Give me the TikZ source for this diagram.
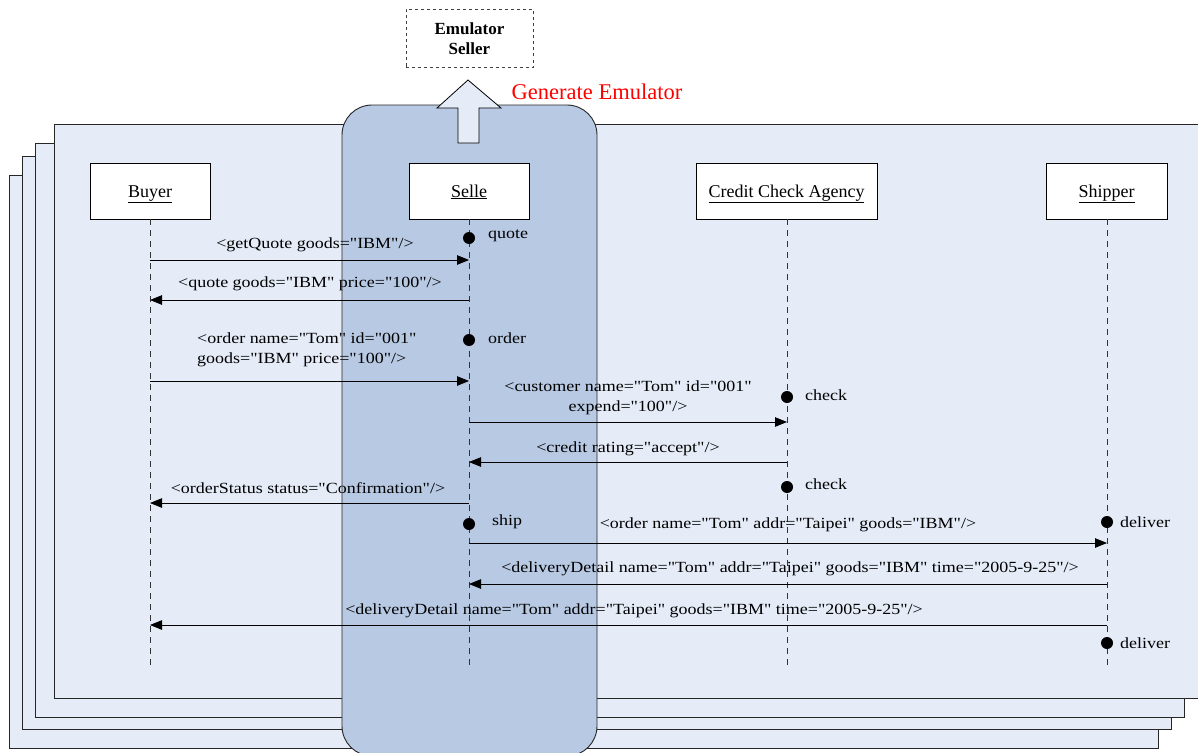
\documentclass[tikz,border=0pt]{standalone}
\usepackage{fontspec}
\setmainfont{Liberation Serif}
\newfontfamily\msgfont[FakeStretch=1.16]{Liberation Serif}
\usetikzlibrary{arrows.meta}
\definecolor{pagefill}{HTML}{E5ECF7}
\definecolor{bluefill}{HTML}{B8C9E3}
\begin{document}
\begin{tikzpicture}[x=1pt,y=-1pt,
  page/.style={draw=black!85, line width=0.9pt, fill=pagefill},
  actor/.style={draw=black, fill=white, line width=0.8pt, minimum width=120pt, minimum height=56pt, inner sep=0pt, text height=15pt, text depth=3pt, font=\fontsize{18}{20}\selectfont},
  lifeline/.style={draw=black!80, line width=0.8pt, dash pattern=on 6pt off 5pt},
  msg/.style={draw=black, line width=0.8pt, -{Triangle[length=12pt,width=9.5pt]}},
  lbl/.style={inner sep=0pt, font=\msgfont\fontsize{15.5}{20.5}\selectfont},
  dotmark/.style={circle, fill=black, minimum size=12pt, inner sep=0pt},
]
\useasboundingbox (0,0) rectangle (1198,752);
% stacked pages
\path[page] (9,175) rectangle (1158,748);
\path[page] (22,156) rectangle (1171,729);
\path[page] (35,143) rectangle (1184,717);
\path[page] (54,124) rectangle (1200,698);
% emulator column
\path[draw=black!85, line width=0.9pt, fill=bluefill, rounded corners=30pt] (342,105) rectangle (597,756);
% block arrow
\path[draw=black, line width=0.8pt, fill=pagefill] (458,143) -- (458,108) -- (437,108) -- (468,80) -- (501,108) -- (479,108) -- (479,143) -- cycle;
\node[draw=black!75, dashed, line width=0.8pt, minimum width=127pt, minimum height=58pt, inner sep=0pt, align=center, font=\bfseries\fontsize{17}{20}\selectfont] (emu) at (469.5,38.5) {Emulator\\Seller};
\node[inner sep=0pt, text=red, font=\fontsize{22.5}{24}\selectfont] (gen) at (597,92) {Generate Emulator};
% actors
\node[actor] (buyer) at (150,191) {\underline{Buyer}};
\node[actor] (selle) at (469,191) {\underline{Selle}};
\node[actor, minimum width=181pt] (credit) at (786.5,191) {\underline{Credit Check Agency}};
\node[actor, minimum width=121pt] (ship) at (1106.5,191) {\underline{Shipper}};
\coordinate (buyerEnd) at (150,667);
\coordinate (selleEnd) at (469,667);
\coordinate (creditEnd) at (787,667);
\coordinate (shipEnd) at (1107,667);
\draw[lifeline] (buyer.south) -- (buyerEnd);
\draw[lifeline] (selle.south) -- (selleEnd);
\draw[lifeline] (credit.south -| creditEnd) -- (creditEnd);
\draw[lifeline] (ship.south -| shipEnd) -- (shipEnd);
% message levels
\coordinate (y1) at (0,260);
\coordinate (y2) at (0,300);
\coordinate (y3) at (0,381);
\coordinate (y4) at (0,422);
\coordinate (y5) at (0,462);
\coordinate (y6) at (0,503);
\coordinate (y7) at (0,543);
\coordinate (y8) at (0,584);
\coordinate (y9) at (0,625);
\draw[msg] (buyerEnd |- y1) -- (selleEnd |- y1);
\draw[msg] (selleEnd |- y2) -- (buyerEnd |- y2);
\draw[msg] (buyerEnd |- y3) -- (selleEnd |- y3);
\draw[msg] (selleEnd |- y4) -- (creditEnd |- y4);
\draw[msg] (creditEnd |- y5) -- (selleEnd |- y5);
\draw[msg] (selleEnd |- y6) -- (buyerEnd |- y6);
\draw[msg] (selleEnd |- y7) -- (shipEnd |- y7);
\draw[msg] (shipEnd |- y8) -- (selleEnd |- y8);
\draw[msg] (shipEnd |- y9) -- (buyerEnd |- y9);
% message labels
\node[lbl] (l1) at (315,245) {<getQuote goods="IBM"/>};
\node[lbl] (l2) at (310,284) {<quote goods="IBM" price="100"/>};
\node[lbl, align=left, anchor=west] (l3) at (197,350) {<order name="Tom" id="001"\\goods="IBM" price="100"/>};
\node[lbl, align=center] (l4) at (628,398) {<customer name="Tom" id="001"\\expend="100"/>};
\node[lbl] (l5) at (628,449) {<credit rating="accept"/>};
\node[lbl] (l6) at (308,488) {<orderStatus status="Confirmation"/>};
\node[lbl] (l7) at (788,525) {<order name="Tom" addr="Taipei" goods="IBM"/>};
\node[lbl] (l8) at (790,569) {<deliveryDetail name="Tom" addr="Taipei" goods="IBM" time="2005-9-25"/>};
\node[lbl] (l9) at (634,611) {<deliveryDetail name="Tom" addr="Taipei" goods="IBM" time="2005-9-25"/>};
% activation dots
\node[dotmark] (d1) at (469,238) {};
\node[dotmark] (d2) at (469,340) {};
\node[dotmark] (d3) at (787,397) {};
\node[dotmark] (d4) at (787,487) {};
\node[dotmark] (d5) at (469,524) {};
\node[dotmark] (d6) at (1107,522) {};
\node[dotmark] (d7) at (1107,643) {};
\node[lbl, anchor=west] (t1) at (488,236) {quote};
\node[lbl, anchor=west] (t2) at (488,338) {order};
\node[lbl, anchor=west] (t3) at (805,395) {check};
\node[lbl, anchor=west] (t4) at (805,484) {check};
\node[lbl, anchor=west] (t5) at (492,522) {ship};
\node[lbl, anchor=west] (t6) at (1120,522) {deliver};
\node[lbl, anchor=west] (t7) at (1120,643) {deliver};
\end{tikzpicture}
\end{document}
